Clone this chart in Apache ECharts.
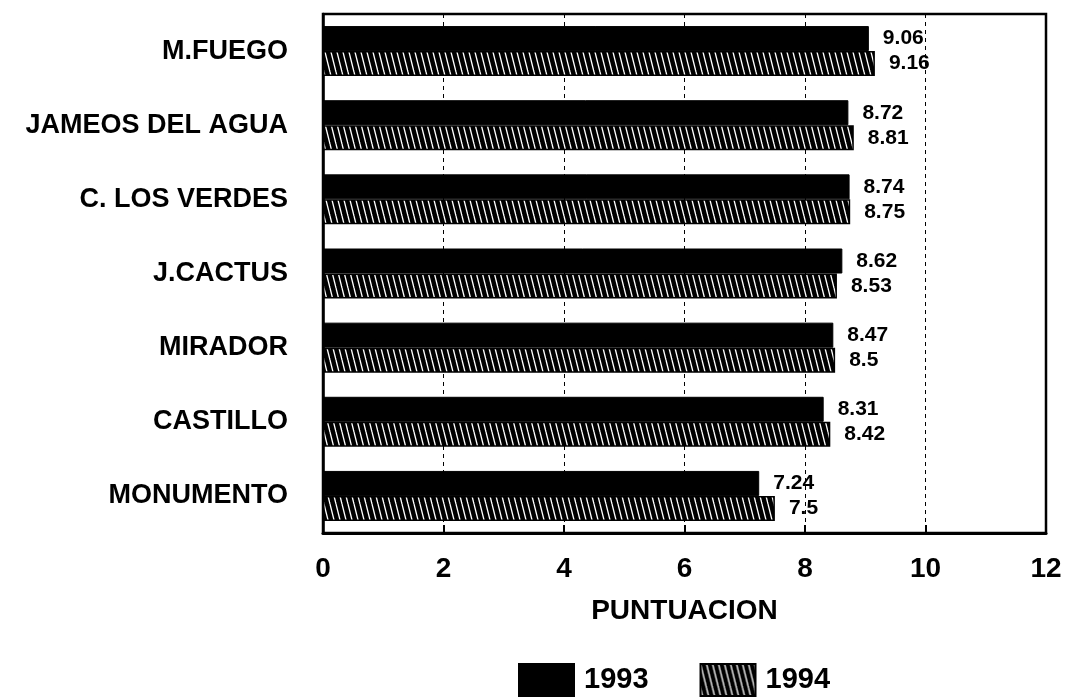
<!DOCTYPE html>
<html>
<head>
<meta charset="utf-8">
<script src="https://cdn.jsdelivr.net/npm/echarts@6/dist/echarts.min.js"></script>
<style>
  html, body { margin: 0; padding: 0; background: #fff; }
  #chart { width: 1067px; height: 700px; }
</style>
</head>
<body>
<div id="chart"></div>
<script>
// datos
const categorias = ["M.FUEGO", "JAMEOS DEL AGUA", "C. LOS VERDES", "J.CACTUS", "MIRADOR", "CASTILLO", "MONUMENTO"];
const valores1993 = [9.06, 8.72, 8.74, 8.62, 8.47, 8.31, 7.24];
const valores1994 = [9.16, 8.81, 8.75, 8.53, 8.5, 8.42, 7.5];
const ticksX = [0, 2, 4, 6, 8, 10, 12];

// trama rayada para 1994
function rayado() {
    let c = document.createElement("canvas");
    c.width = 6; c.height = 24;
    let ctx = c.getContext("2d");
    ctx.fillStyle = "#000";
    ctx.fillRect(0, 0, 6, 24);
    ctx.strokeStyle = "#fff";
    ctx.lineWidth = 1.3;
    for (let k = -6; k <= 6; k += 6) {
        ctx.beginPath();
        ctx.moveTo(k, 0);
        ctx.lineTo(k + 6, 24);
        ctx.stroke();
    }
    return c;
}
const patron = { image: rayado(), repeat: "repeat" };

const fuente = "'Liberation Sans', Arial, sans-serif";
let chart = echarts.init(document.getElementById("chart"));

let etiqueta = {
    show: true,
    position: "right",
    distance: 14,
    color: "#000",
    fontFamily: fuente,
    fontWeight: "bold",
    fontSize: 21
};

chart.setOption({
    backgroundColor: "#fff",
    animation: false,
    grid: {
        left: 323, right: 21, top: 14, bottom: 167,
        show: true, borderColor: "#000", borderWidth: 2.5
    },
    legend: {
        top: 663,
        left: 518,
        padding: 0,
        itemWidth: 55,
        itemHeight: 32,
        itemGap: 51,
        textStyle: { fontFamily: fuente, fontSize: 29, fontWeight: "bold", color: "#000", padding: [0, 0, 0, 5] },
        data: [
            { name: "1993", icon: "rect" },
            { name: "1994", icon: "rect" }
        ]
    },
    xAxis: {
        type: "value",
        min: ticksX[0],
        max: ticksX[ticksX.length - 1],
        interval: 2,
        name: "PUNTUACION",
        nameLocation: "middle",
        nameGap: 64,
        nameTextStyle: { fontFamily: fuente, fontSize: 28, fontWeight: "bold", color: "#000" },
        axisLine: { show: true, lineStyle: { color: "#000", width: 3 } },
        axisTick: { show: true, inside: true, length: 8, lineStyle: { color: "#000", width: 2 } },
        axisLabel: { margin: 22, fontFamily: fuente, fontSize: 28, fontWeight: "bold", color: "#000" },
        splitLine: { show: true, lineStyle: { color: "#000", type: [4, 4], width: 1 } }
    },
    yAxis: {
        type: "category",
        inverse: true,
        data: categorias,
        axisLine: { show: true, lineStyle: { color: "#000", width: 2.5 } },
        axisTick: { show: false },
        axisLabel: { margin: 35, fontFamily: fuente, fontSize: 27, fontWeight: "bold", color: "#000" }
    },
    series: [
        {
            name: "1993",
            type: "bar",
            data: valores1993,
            barWidth: 25,
            barGap: "0%",
            itemStyle: { color: "#000", borderColor: "#000", borderWidth: 1 },
            label: etiqueta
        },
        {
            name: "1994",
            type: "bar",
            data: valores1994,
            barWidth: 25,
            itemStyle: { color: patron, borderColor: "#000", borderWidth: 1.5 },
            label: etiqueta
        }
    ]
});
</script>
</body>
</html>
